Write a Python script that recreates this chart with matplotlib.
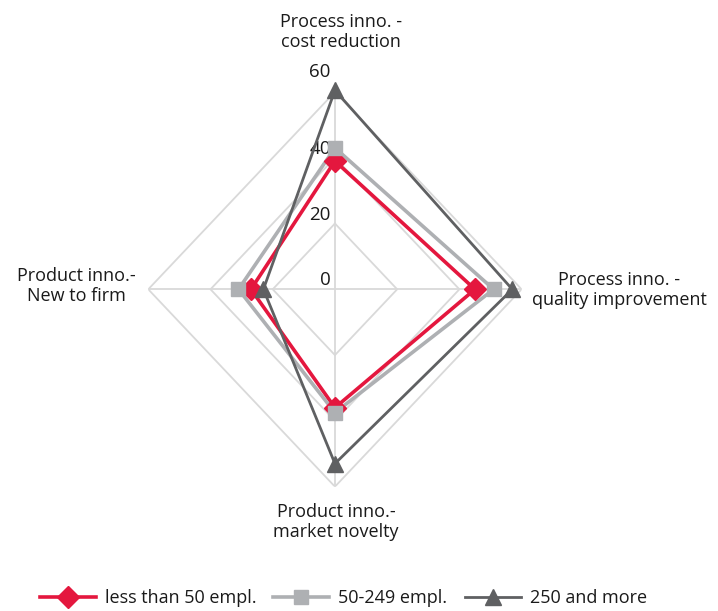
import numpy as np
import matplotlib.pyplot as plt
from matplotlib.lines import Line2D

# Categories, clockwise from the top
categories = ['Process inno. -\ncost reduction',
              'Process inno. -\nquality improvement',
              'Product inno.-\nmarket novelty',
              'Product inno.-\nNew to firm']
series_names = ['less than 50 empl.', '50-249 empl.', '250 and more']
small = [39, 45, 36, 27]
medium = [43, 51, 37.5, 31]
large = [60.5, 57, 53, 23]
ticks = [0, 20, 40, 60]

plt.rcParams['font.family'] = ['Open Sans', 'DejaVu Sans']
txt_color = '#1a1a1a'

fig = plt.figure(figsize=(7.18, 6.11), dpi=100)
ax = fig.add_axes([0.2065, 0.2035, 0.52, 0.646], projection='polar')
ax.set_aspect('auto')
ax.set_theta_offset(np.pi / 2)
ax.set_theta_direction(-1)
ax.set_ylim(0, 60)
ax.axis('off')

theta = np.arange(len(categories)) * 2 * np.pi / len(categories)
theta_closed = np.append(theta, theta[0])

# polygon grid
grid_c = '#d9d9d9'
for r in ticks[1:]:
    ax.plot(theta_closed, [r] * len(theta_closed), color=grid_c, lw=1.3, zorder=1)
for t in theta:
    ax.plot([t, t], [0, ticks[-1]], color=grid_c, lw=1.3, zorder=1)

# radial tick labels
for r in ticks:
    dy = 8 if r == ticks[-1] else 0
    ax.annotate(str(r), (0, r), xytext=(-3, dy), textcoords='offset points',
                ha='right', va='bottom', fontsize=13.5, color=txt_color)

styles = [
    dict(color='#e4173e', lw=2.6, marker='D', ms=11),
    dict(color='#aeb0b3', lw=2.6, marker='s', ms=10),
    dict(color='#5f6062', lw=2.0, marker='^', ms=11),
]
for vals, st in zip([small, medium, large], styles):
    v = np.append(vals, vals[0])
    ax.plot(theta_closed, v, color=st['color'], lw=st['lw'], zorder=3)
    ax.plot(theta, vals, ls='none', marker=st['marker'], ms=st['ms'],
            color=st['color'], mec=st['color'], zorder=4, clip_on=False)

# category labels
fs = 13
label_pos = [(341, 32), (619, 290), (336, 522), (76, 286)]
for lab, (px, py) in zip(categories, label_pos):
    fig.text(px / 718, 1 - py / 611, lab, ha='center', va='center',
             fontsize=fs, color=txt_color, linespacing=1.15)

handles = [Line2D([], [], color=st['color'], lw=st['lw'], marker=st['marker'],
                  ms=st['ms'], mec=st['color']) for st in styles]
fig.legend(handles, series_names, loc='lower center', ncol=3, frameon=False,
           bbox_to_anchor=(0.478, -0.02), fontsize=13, handlelength=3.1,
           columnspacing=0.95, handletextpad=0.5, labelcolor=txt_color)

fig.savefig('out.png', dpi=100)
